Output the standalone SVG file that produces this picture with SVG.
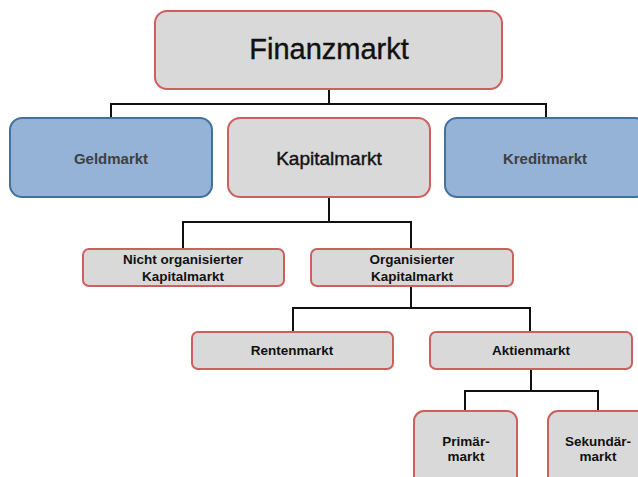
<svg xmlns="http://www.w3.org/2000/svg" width="638" height="477" viewBox="0 0 638 477">
<style>
.g{fill:#d9d9d9;stroke:#cd5f5f;stroke-width:2}
.b{fill:#95b3d7;stroke:#41719c;stroke-width:2}
.t{font-family:"Liberation Sans",Arial,sans-serif;text-anchor:middle;fill:#111}
.h{stroke:#111;stroke-width:0.4}
.s{font-size:13.5px;font-weight:bold}
.bt{font-size:15px;font-weight:bold;fill:#404040}
#connectors path{fill:none;stroke:#111;stroke-width:2}
</style>
<rect width="638" height="477" fill="#fff"/>
<g id="connectors">
<path d="M329 89V104M111 118V104H546V118M329 197V222M183 249V222H411V249M411 286V308M293 332V308H530V332M531 369V391M465 411V391H598V411"/>
</g>
<g id="finanzmarkt"><rect class="g" x="155" y="11" width="347" height="78" rx="12"/><text class="t h" x="329" y="59" font-size="29">Finanzmarkt</text></g>
<g id="geldmarkt"><rect class="b" x="10" y="118" width="202" height="79" rx="12"/><text class="t bt" x="111" y="164">Geldmarkt</text></g>
<g id="kapitalmarkt"><rect class="g" x="228" y="118" width="202" height="79" rx="12"/><text class="t h" x="329" y="165" font-size="19">Kapitalmarkt</text></g>
<g id="kreditmarkt"><rect class="b" x="445" y="118" width="202" height="79" rx="12"/><text class="t bt" x="545" y="164">Kreditmarkt</text></g>
<g id="nicht-organisiert"><rect class="g" x="83" y="249" width="201" height="37" rx="6"/><text class="t s" x="183" y="264">Nicht organisierter</text><text class="t s" x="183" y="281">Kapitalmarkt</text></g>
<g id="organisiert"><rect class="g" x="311" y="249" width="202" height="37" rx="6"/><text class="t s" x="412" y="264">Organisierter</text><text class="t s" x="412" y="281">Kapitalmarkt</text></g>
<g id="rentenmarkt"><rect class="g" x="192" y="332" width="201" height="37" rx="6"/><text class="t s" x="292" y="355">Rentenmarkt</text></g>
<g id="aktienmarkt"><rect class="g" x="430" y="332" width="202" height="37" rx="6"/><text class="t s" x="531" y="355">Aktienmarkt</text></g>
<g id="primaermarkt"><rect class="g" x="414" y="411" width="103" height="80" rx="10"/><text class="t s" x="466" y="446">Primär-</text><text class="t s" x="466" y="461">markt</text></g>
<g id="sekundaermarkt"><rect class="g" x="548" y="411" width="100" height="80" rx="10"/><text class="t s" x="598" y="446">Sekundär-</text><text class="t s" x="598" y="461">markt</text></g>
</svg>
